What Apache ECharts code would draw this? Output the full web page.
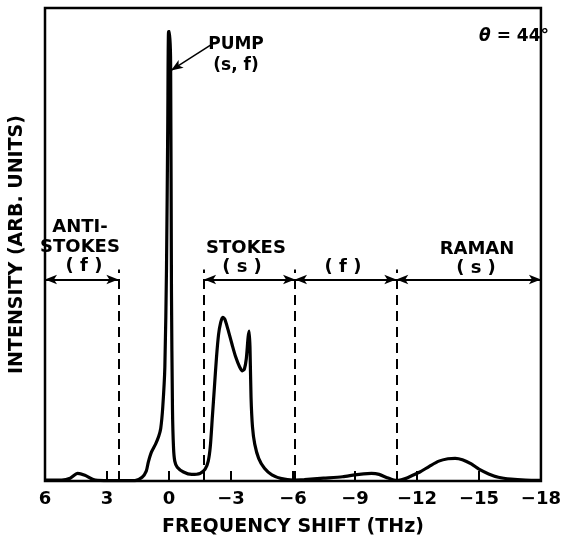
<!DOCTYPE html>
<html>
<head>
<meta charset="utf-8">
<script src="https://cdn.jsdelivr.net/npm/echarts@6/dist/echarts.min.js"></script>
<style>
html,body{margin:0;padding:0;background:#fff;}
#chart{width:564px;height:542px;}
</style>
</head>
<body>
<div id="chart"></div>
<script>
// Frequency shift (THz) and intensity (arb. units, 0-100 frame height)
const shiftTHz = [6, 5.19, 4.78, 4.42, 4.07, 3.66, 3.15, 1.65, 1.3, 1.1, 1.0, 0.85, 0.65, 0.5, 0.4, 0.3, 0.2, 0.12, 0.06, 0.02, -0.03, -0.08, -0.12, -0.17, -0.22, -0.28, -0.4, -0.7, -1.1, -1.5, -1.75, -1.9, -2.0, -2.1, -2.2, -2.3, -2.4, -2.5, -2.6, -2.7, -2.85, -3.05, -3.23, -3.42, -3.55, -3.65, -3.74, -3.83, -3.88, -3.92, -3.97, -4.04, -4.15, -4.34, -4.62, -4.98, -5.45, -6, -6.55, -7.48, -8.4, -9, -9.42, -9.8, -10.17, -10.55, -10.88, -11.1, -11.44, -11.8, -12.14, -12.6, -13.06, -13.5, -13.85, -14.2, -14.63, -15, -15.47, -15.94, -16.55, -17.25, -18];
const intensity = [0.2, 0.2, 0.6, 1.6, 1.2, 0.3, 0.1, 0.1, 0.8, 2.1, 4.0, 6.1, 7.8, 9.4, 11.1, 15.7, 24.1, 45, 75, 95, 95, 88, 40, 15, 7, 4.2, 2.9, 1.9, 1.4, 1.6, 2.5, 4.2, 7.3, 13.6, 19.9, 26.2, 31.0, 33.5, 34.6, 34.2, 32.1, 28.9, 26.2, 24.1, 23.3, 23.7, 25.8, 30.4, 31.7, 28.3, 17.8, 11.5, 7.8, 4.8, 2.7, 1.3, 0.5, 0.2, 0.3, 0.6, 0.9, 1.3, 1.5, 1.6, 1.4, 0.7, 0.2, 0.15, 0.5, 1.2, 1.9, 3.1, 4.2, 4.7, 4.8, 4.5, 3.6, 2.5, 1.5, 0.8, 0.4, 0.2, 0.15];

// Region boundaries (dashed lines) and region arrows (THz)
const regionBounds = [2.45, -1.7, -6.1, -11];
const regionArrows = [[6, 2.45], [-1.7, -6.1], [-6.1, -11], [-11, -18]];
const arrowLevel = 42.6;
const dashTop = 44.7;
// Pump pointer: from label to the pump line
const pumpPointer = [[-2.2, 92.7], [-0.1, 86.8]];

const xMin = -18, xMax = 6, xStep = 3;

const FONT = 'DejaVu Sans';
const chart = echarts.init(document.getElementById('chart'));
const curve = shiftTHz.map((x, i) => [x, intensity[i]]);

const textStyle = (s, size) => ({
  text: s, fill: '#000', font: 'bold ' + (size || 17) + 'px "' + FONT + '"',
  textAlign: 'center', textVerticalAlign: 'middle'
});

chart.setOption({
  animation: false,
  backgroundColor: '#fff',
  grid: {left: 40, right: 17, top: 8, bottom: 57, show: true, borderColor: '#000', borderWidth: 2.5, backgroundColor: 'transparent'},
  xAxis: {
    type: 'value', min: xMin, max: xMax, interval: xStep, inverse: true,
    axisLine: {show: false},
    axisTick: {show: true, inside: true, length: 10, lineStyle: {color: '#000', width: 2}},
    splitLine: {show: false},
    axisLabel: {color: '#000', fontSize: 18, fontFamily: FONT, fontWeight: 'bold', margin: 9,
      formatter: v => (v < 0 ? '\u2212' + Math.abs(v) : String(v))},
    name: 'FREQUENCY SHIFT (THz)', nameLocation: 'middle', nameGap: 37,
    nameTextStyle: {color: '#000', fontSize: 19, fontFamily: FONT, fontWeight: 'bold'}
  },
  yAxis: {
    type: 'value', min: 0, max: 100,
    axisLine: {show: false}, axisTick: {show: false}, axisLabel: {show: false}, splitLine: {show: false},
    name: 'INTENSITY (ARB. UNITS)', nameLocation: 'middle', nameGap: 18, nameRotate: 90,
    nameTextStyle: {color: '#000', fontSize: 19, fontFamily: FONT, fontWeight: 'bold'}
  },
  series: [
    {
      type: 'line', data: curve, showSymbol: false, smooth: 0.25,
      lineStyle: {color: '#000', width: 3.2}, z: 5
    },
    {
      type: 'line', data: [], silent: true,
      markLine: {
        silent: true, symbol: 'none', label: {show: false},
        lineStyle: {color: '#000', width: 2, type: [10, 6]},
        data: regionBounds.map(b => [{coord: [b, 0]}, {coord: [b, dashTop]}])
      }
    },
    {
      type: 'line', data: [], silent: true,
      markLine: {
        silent: true, symbol: ['arrow', 'arrow'], symbolSize: [7, 12], label: {show: false},
        lineStyle: {color: '#000', width: 2, type: 'solid'},
        data: regionArrows.map(r => [{coord: [r[0], arrowLevel]}, {coord: [r[1], arrowLevel]}])
      }
    },
    {
      type: 'line', data: [], silent: true,
      markLine: {
        silent: true, symbol: ['none', 'arrow'], symbolSize: [7, 12], label: {show: false},
        lineStyle: {color: '#000', width: 1.5, type: 'solid'},
        data: [[{coord: pumpPointer[0]}, {coord: pumpPointer[1]}]]
      }
    }
  ],
  graphic: [
    {type: 'text', x: 80, y: 227, style: textStyle('ANTI-', 18)},
    {type: 'text', x: 80, y: 247, style: textStyle('STOKES', 18)},
    {type: 'text', x: 84, y: 266, style: textStyle('( f )', 18)},
    {type: 'text', x: 246, y: 248, style: textStyle('STOKES', 18)},
    {type: 'text', x: 242, y: 267, style: textStyle('( s )', 18)},
    {type: 'text', x: 343, y: 267, style: textStyle('( f )', 18)},
    {type: 'text', x: 477, y: 249, style: textStyle('RAMAN', 18)},
    {type: 'text', x: 476, y: 268, style: textStyle('( s )', 18)},
    {type: 'text', x: 236, y: 45, style: textStyle('PUMP', 17)},
    {type: 'text', x: 236, y: 66, style: textStyle('(s, f)', 17)},
    {type: 'text', x: 514, y: 37, style: {
      text: '{t|\u03b8} = 44\u00b0', fill: '#000', font: 'bold 17px "' + FONT + '"',
      textAlign: 'center', textVerticalAlign: 'middle',
      rich: {t: {fontStyle: 'italic', fontWeight: 'bold', fontSize: 17, fontFamily: FONT}}
    }}
  ]
});
</script>
</body>
</html>
